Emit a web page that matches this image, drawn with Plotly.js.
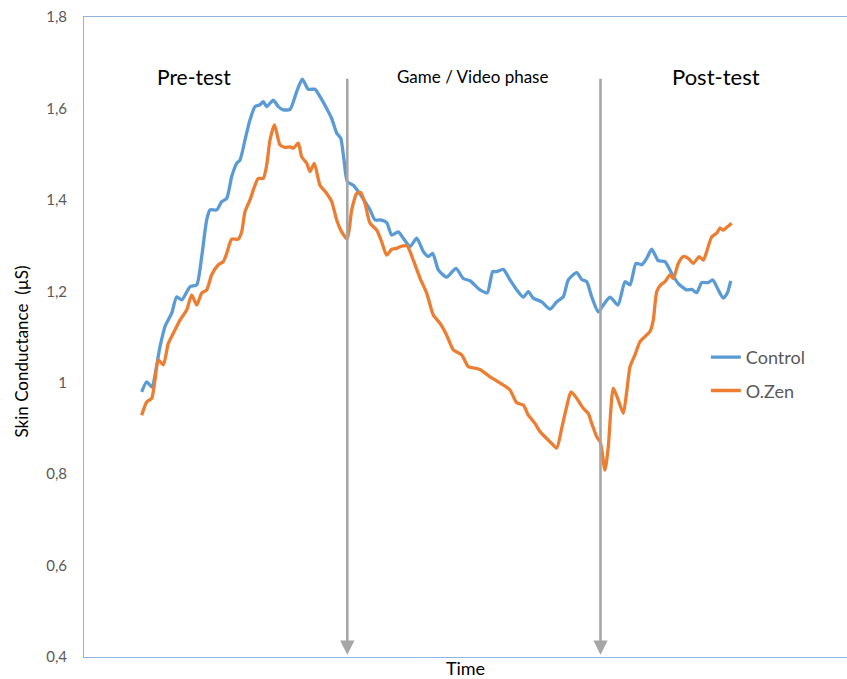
<!DOCTYPE html>
<html>
<head>
<meta charset="utf-8">
<script src="https://cdn.plot.ly/plotly-3.0.1.min.js"></script>
<style>html,body{margin:0;padding:0;background:#fff;}#chart{width:847px;height:679px;}</style>
</head>
<body>
<div id="chart"></div>
<script>
// Time (arbitrary units) and skin conductance (µS)
const timeControl = [57.7,62.7,67.7,76,81,87.7,92.7,97.7,106,112.7,117.7,122.7,126,132.7,137.7,142.7,147.7,152.7,156,161,166,171,176,179.3,182.7,189.3,194.3,199.3,206,212.7,218.3,224.3,231,236,242.7,247.7,252.7,256.7,260,263.3,269.3,274.3,281,286,291,296,302.7,307.7,314.3,319.3,326,332.7,339.3,344.3,348.7,354.3,362.7,372,379.3,386,396,403.3,408.7,412.7,419.3,426,432.7,439.3,444.3,449.3,457.7,466,472.7,479.3,484.3,492.7,497.7,502.7,507.7,514.3,519.3,526,534,541,546,552,557.7,562.7,567.7,574.3,581,587.7,594.3,602.7,607.7,612.7,617.7,624.3,628.7,634.3,639.3,643.3,646.7];
const control = [0.980,1.002,0.991,1.079,1.123,1.152,1.188,1.181,1.210,1.214,1.276,1.356,1.378,1.378,1.396,1.403,1.451,1.480,1.487,1.531,1.575,1.604,1.608,1.615,1.604,1.618,1.604,1.597,1.598,1.637,1.664,1.642,1.642,1.626,1.600,1.578,1.546,1.535,1.487,1.440,1.432,1.418,1.396,1.378,1.356,1.356,1.350,1.323,1.330,1.316,1.298,1.316,1.287,1.276,1.283,1.247,1.231,1.250,1.228,1.223,1.203,1.197,1.243,1.243,1.248,1.225,1.203,1.187,1.199,1.185,1.177,1.161,1.177,1.188,1.225,1.241,1.226,1.221,1.188,1.155,1.170,1.187,1.170,1.221,1.214,1.261,1.258,1.272,1.292,1.267,1.265,1.239,1.217,1.203,1.204,1.197,1.219,1.219,1.225,1.203,1.185,1.196,1.223];

const timeOZen = [57.7,62.7,67.7,71,74.3,79.3,84.3,89.3,96,102.7,107.7,112.7,117.7,122.7,127.7,134.3,139.3,142.7,147.7,154.3,157.7,161,166,171,174.3,179.3,182.7,186,190.5,196,201,206,209.3,214.3,217.7,222.7,226,230.3,236,242.7,247.7,252.7,257.7,263.3,267.7,272.7,276.7,281,286,292.7,297.7,302.7,307.7,312.7,317.7,323.3,329.3,336,342.7,349.3,356,362.7,369.3,377.7,384.3,391,396,406,412.7,419.3,426,432.7,439.3,444.3,451,456,462.7,467.7,472.7,477.7,482.7,487,492.7,499.3,504.3,507.7,512.7,516.3,521,524.3,529.3,534.3,539.3,542.7,546,551,556,561,566,569.3,572.7,576.7,581,586,589.3,594.3,599.3,604.3,609.3,615.3,619.3,622.7,627.7,632.7,636,639.3,643.3,647.7];
const ozen = [0.929,0.958,0.966,1.006,1.050,1.039,1.086,1.108,1.137,1.159,1.192,1.170,1.196,1.203,1.236,1.258,1.265,1.283,1.314,1.314,1.330,1.374,1.400,1.432,1.447,1.447,1.476,1.531,1.564,1.520,1.515,1.516,1.513,1.524,1.494,1.480,1.462,1.480,1.432,1.414,1.396,1.356,1.330,1.314,1.378,1.414,1.416,1.392,1.349,1.334,1.308,1.279,1.292,1.294,1.299,1.299,1.268,1.229,1.196,1.148,1.130,1.104,1.072,1.061,1.035,1.032,1.029,1.013,1.004,0.995,0.984,0.956,0.951,0.929,0.911,0.893,0.878,0.867,0.857,0.900,0.948,0.980,0.966,0.944,0.933,0.911,0.882,0.870,0.809,0.860,0.988,0.962,0.933,0.980,1.035,1.061,1.090,1.101,1.112,1.137,1.199,1.214,1.221,1.236,1.228,1.261,1.276,1.272,1.261,1.276,1.268,1.287,1.319,1.327,1.338,1.334,1.341,1.349];

const seriesNames = ['Control', 'O.Zen'];
const phaseLabels = ['Pre-test', 'Game / Video phase', 'Post-test'];
const phaseBoundaries = [263.3, 516.5];
const yTicks = [0.4, 0.6, 0.8, 1.0, 1.2, 1.4, 1.6, 1.8];

const BLUE = '#5B9BD5', ORANGE = '#ED7D31', GREY = '#A6A6A6', AXIS = '#8FB4DE';
const FONT = 'Lato, "Noto Sans", sans-serif';

const traces = [
  {x: timeControl, y: control, name: seriesNames[0], type: 'scatter', mode: 'lines',
   line: {color: BLUE, width: 3.3, shape: 'spline', smoothing: 0.6}, legendgroup: 'a'},
  {x: timeOZen, y: ozen, name: seriesNames[1], type: 'scatter', mode: 'lines',
   line: {color: ORANGE, width: 3.3, shape: 'spline', smoothing: 0.6}, legendgroup: 'b'}
];

const arrowTop = 1.668;
const annotations = phaseBoundaries.map(t => ({
  x: t, y: 0.405, ax: t, ay: arrowTop, xref: 'x', yref: 'y', axref: 'x', ayref: 'y',
  showarrow: true, arrowhead: 2, arrowsize: 1.1, arrowwidth: 2.6, arrowcolor: GREY, text: ''
}));
const labelX = [110, 388, 632];
const labelSize = [21, 17, 22];
phaseLabels.forEach((s, i) => annotations.push({
  x: labelX[i], y: 1.669, xref: 'x', yref: 'y', text: s, showarrow: false,
  font: {family: FONT, size: labelSize[i], color: '#000'}
}));
annotations.push({
  xref: 'paper', yref: 'paper', x: 0, y: 0.5, xshift: -76, yshift: -15, textangle: -90,
  text: 'Skin Conductance  (µS)', showarrow: false, font: {family: FONT, size: 17, color: '#000'}
});

const layout = {
  width: 847, height: 679,
  margin: {l: 84, r: 0, t: 17, b: 22},
  paper_bgcolor: '#fff', plot_bgcolor: '#fff',
  separators: ', ',
  font: {family: FONT, size: 14, color: '#595959'},
  showlegend: true,
  legend: {x: 0.815, y: 0.497, xanchor: 'left', yanchor: 'top', traceorder: 'grouped',
           tracegroupgap: 7, font: {family: FONT, size: 18, color: '#595959'},
           bgcolor: 'rgba(0,0,0,0)'},
  xaxis: {range: [0, 763], showgrid: false, zeroline: false, showticklabels: false, ticks: '',
          showline: true, mirror: true, linecolor: AXIS, linewidth: 1,
          title: {text: 'Time', standoff: 9, font: {family: FONT, size: 18, color: '#000'}}},
  yaxis: {range: [0.4, 1.8], tickvals: yTicks, showgrid: false, zeroline: false, ticks: '',
          showline: true, linecolor: AXIS, linewidth: 1, ticklabelstandoff: 13,
          tickfont: {family: FONT, size: 15, color: '#595959'}},
  annotations: annotations
};

Plotly.newPlot('chart', traces, layout, {displayModeBar: false, staticPlot: true});
</script>
</body>
</html>
